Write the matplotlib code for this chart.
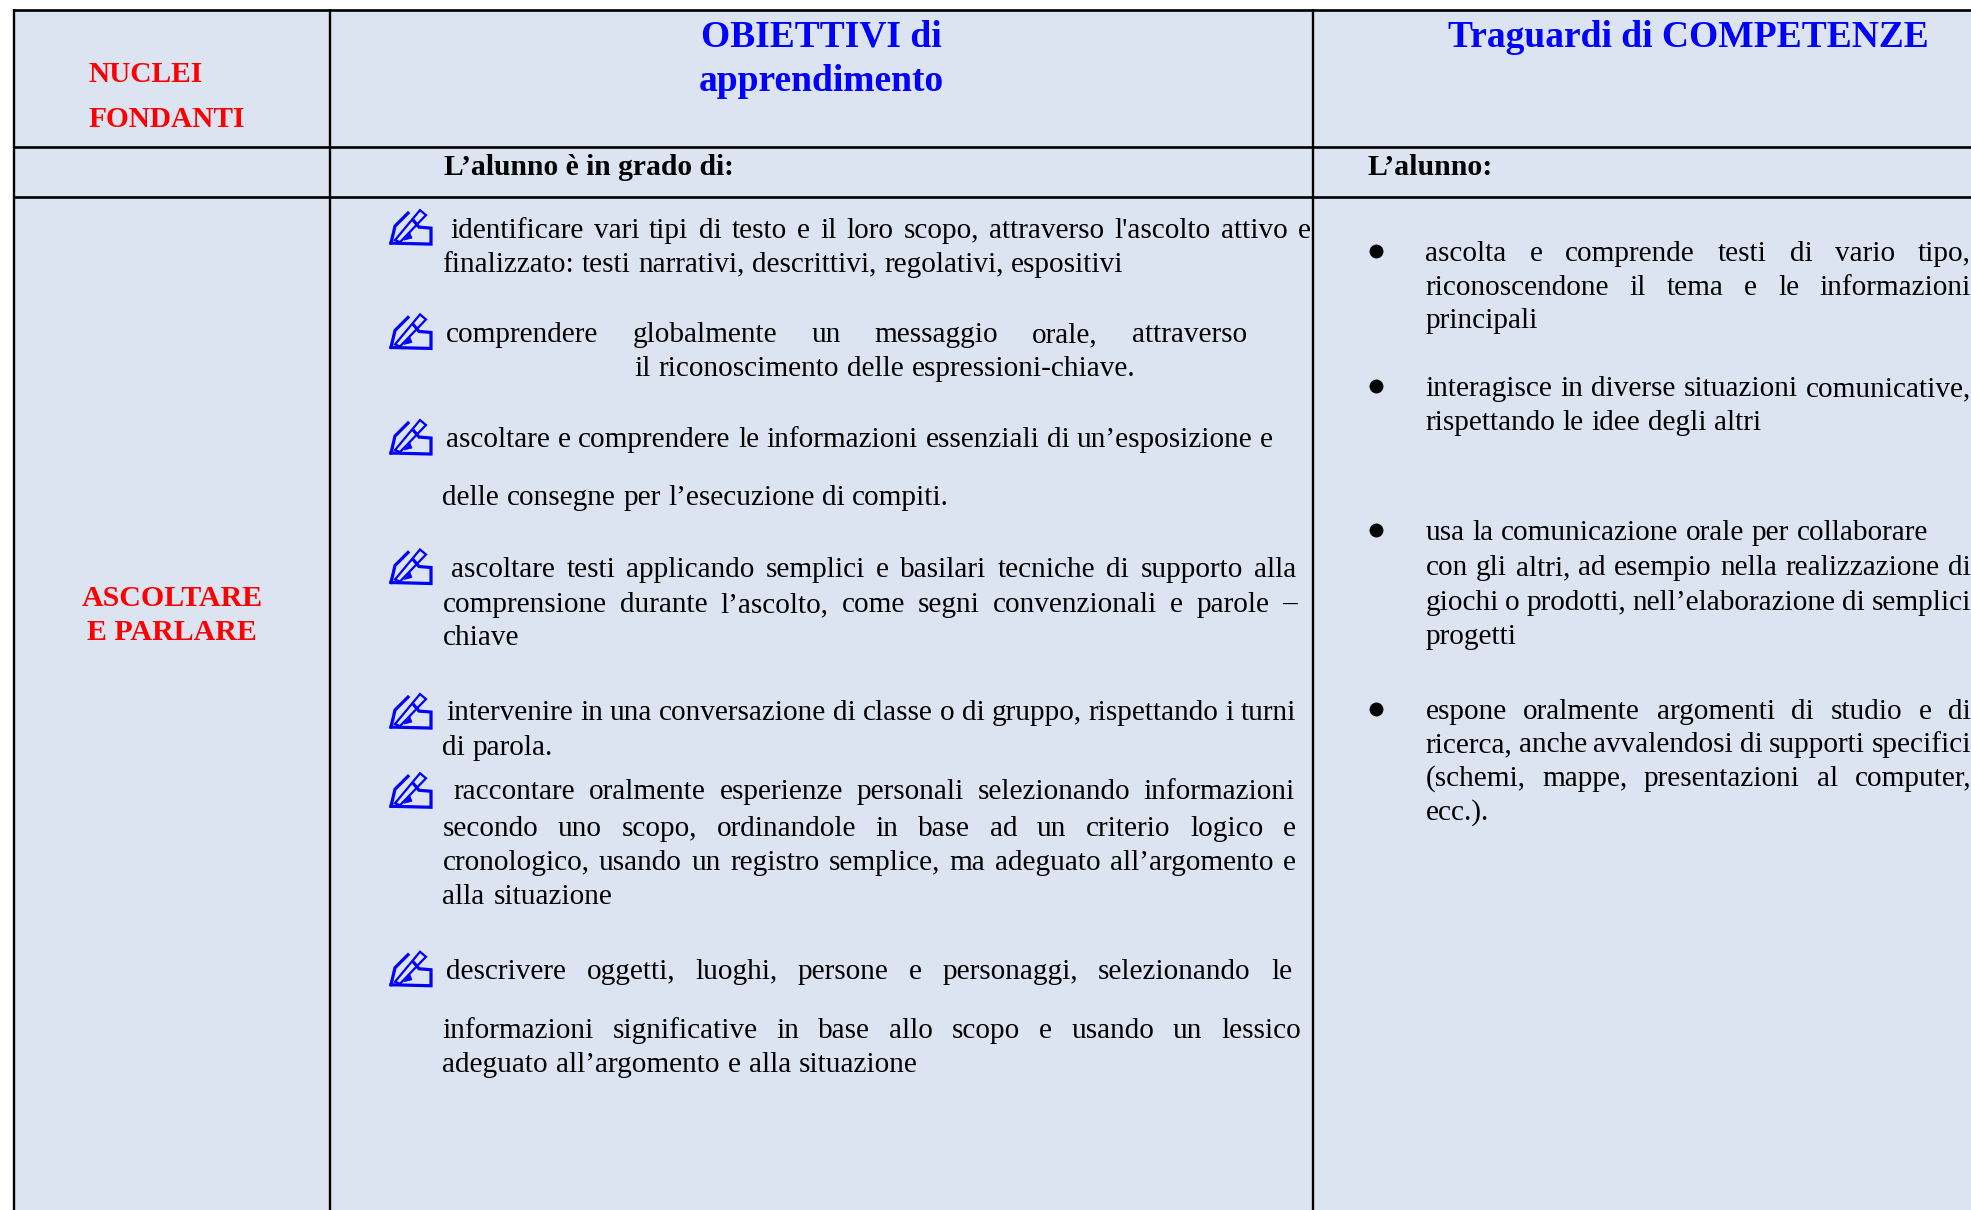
import matplotlib
matplotlib.use("Agg")
import matplotlib.pyplot as plt
from matplotlib.patches import Polygon, Rectangle

W, H = 1971, 1210
K = 1971 / 1568  # le misure sotto sono prese sull'immagine ridotta
BG = "#DCE4F1"
FONT = "Liberation Serif"

# testo colonna obiettivi
obiettivi = [
    "identificare vari tipi di testo e il loro scopo, attraverso l'ascolto attivo e",
    "finalizzato: testi narrativi, descrittivi, regolativi, espositivi",
    "comprendere globalmente un messaggio orale, attraverso",
    "il riconoscimento delle espressioni-chiave.",
    "ascoltare e comprendere le informazioni essenziali di un’esposizione e",
    "delle consegne per l’esecuzione di compiti.",
    "ascoltare testi applicando semplici e basilari tecniche di supporto alla",
    "comprensione durante l’ascolto, come segni convenzionali e parole –",
    "chiave",
    "intervenire in una conversazione di classe o di gruppo, rispettando i turni",
    "di parola.",
    "raccontare oralmente esperienze personali selezionando informazioni",
    "secondo uno scopo, ordinandole in base ad un criterio logico e",
    "cronologico, usando un registro semplice, ma adeguato all’argomento e",
    "alla situazione",
    "descrivere oggetti, luoghi, persone e personaggi, selezionando le",
    "informazioni significative in base allo scopo e usando un lessico",
    "adeguato all’argomento e alla situazione",
]
ob_x0 = [358, 352, 355, 505, 355, 352, 359, 352, 352, 355, 352, 361, 352, 352, 352, 355, 352, 352]
ob_x1 = [1043, 894, 992, 903, 1013, 755, 1031, 1032, 413, 1031, 440, 1030, 1031, 1031, 487, 1028, 1035, 730]
ob_y = [189, 216, 272, 299, 356, 402, 459, 487, 513, 573, 601, 636, 665, 692, 719, 779, 826, 853]

# testo colonna traguardi
traguardi = [
    "ascolta e comprende testi di vario tipo,",
    "riconoscendone il tema e le informazioni",
    "principali",
    "interagisce in diverse situazioni comunicative,",
    "rispettando le idee degli altri",
    "usa la comunicazione orale per collaborare",
    "con gli altri, ad esempio nella realizzazione di",
    "giochi o prodotti, nell’elaborazione di semplici",
    "progetti",
    "espone oralmente argomenti di studio e di",
    "ricerca, anche avvalendosi di supporti specifici",
    "(schemi, mappe, presentazioni al computer,",
    "ecc.).",
]
tr_x1 = [1568, 1568, 1223, 1568, 1401, 1534, 1568, 1568, 1207, 1568, 1568, 1568, 1184]
tr_y = [208, 235, 261, 315, 342, 429.5, 457.5, 485, 512, 572, 598.5, 625, 652]

icone_y = [195, 278, 362, 465, 580, 643, 785]
pallini_y = [200, 307, 422, 564]

fig = plt.figure(figsize=(W / 100, H / 100), dpi=100, facecolor="white")
ax = fig.add_axes([0, 0, 1, 1])
ax.set_xlim(0, W)
ax.set_ylim(H, 0)
ax.axis("off")

ax.add_patch(Rectangle((14, 10), W, H, fc=BG, ec="none"))
for y in [10, 147, 197]:
    ax.plot([13, W], [y, y], color="black", lw=1.9, solid_capstyle="butt")
for x in [14, 330, 1313]:
    ax.plot([x, x], [9, H], color="black", lw=1.7, solid_capstyle="butt")


def riga(testo, x0, x1, y, size=21.1, **kw):
    # parola per parola, per avere il giustificato come nel documento
    r = fig.canvas.get_renderer()
    parole = testo.split(" ")
    tt = [ax.text(0, y, p, family=FONT, fontsize=size, va="baseline", ha="left",
                  color="black", **kw) for p in parole]
    larg = [t.get_window_extent(r).width for t in tt]
    spazio = (x1 - x0 - sum(larg)) / max(len(parole) - 1, 1)
    x = x0
    for t, l in zip(tt, larg):
        t.set_x(x)
        x += l + spazio


for t, a, b, y in zip(obiettivi, ob_x0, ob_x1, ob_y):
    riga(t, a * K, b * K, y * K)
for t, b, y in zip(traguardi, tr_x1, tr_y):
    riga(t, 1134 * K, b * K, y * K)

for y in pallini_y:
    ax.plot([1095 * K], [y * K], "o", color="black", ms=10, mew=0)


def icona(x, y):
    # matita con mano, x,y = angolo basso sinistra
    blu = "#0000FF"
    mano = [(1, -2), (41, -1), (41, -17), (29, -18), (24, -24)]
    mano2 = [(18, -32), (5, -19), (1, -2)]
    penna = [(5, -5), (30, -35), (36, -30), (10, -3)]
    for pts in (mano, mano2):
        ax.plot([x + p[0] for p in pts], [y + p[1] for p in pts], color=blu, lw=2.3,
                solid_joinstyle="miter")
    ax.add_patch(Polygon([(x + p[0], y + p[1]) for p in penna], closed=True, fc="none", ec=blu, lw=1.6))
    ax.add_patch(Polygon([(x + p[0], y + p[1]) for p in [(14, -5), (22, -7), (20, -12)]],
                         closed=True, fc=blu, ec=blu, lw=0.5))


for y in icone_y:
    icona(390, y * K)

# intestazioni
def testa(s, x, y, col, size, ha="left"):
    ax.text(x * K, y * K, s, family=FONT, weight="bold", color=col, fontsize=size, ha=ha, va="baseline")


testa("NUCLEI", 70.5, 65, "#FF0000", 21.2)
testa("FONDANTI", 70.5, 101, "#FF0000", 21.2)
testa("ASCOLTARE", 137, 482, "#FF0000", 21.5, "center")
testa("E PARLARE", 137, 509, "#FF0000", 21.5, "center")
testa("OBIETTIVI di", 653, 37, "#0000FF", 27, "center")
testa("apprendimento", 653, 72, "#0000FF", 27, "center")
testa("Traguardi di COMPETENZE", 1343, 37, "#0000FF", 27, "center")
testa("L’alunno è in grado di:", 353, 139, "black", 21.3)
testa("L’alunno:", 1088, 139, "black", 21.5)

fig.savefig("out.png", dpi=100)
